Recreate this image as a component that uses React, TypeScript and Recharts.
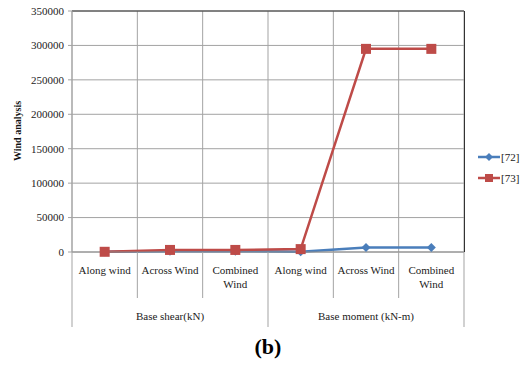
import { LineChart, Line, XAxis, YAxis, CartesianGrid, ReferenceLine } from "recharts";

const categories = ["Along wind", "Across Wind", "Combined Wind", "Along wind", "Across Wind", "Combined Wind"];
const groups = ["Base shear(kN)", "Base moment (kN-m)"];
const ref72 = [200, 1200, 1200, 300, 6500, 6500];
const ref73 = [300, 3000, 3000, 4200, 295000, 295000];
const yTicks = [0, 50000, 100000, 150000, 200000, 250000, 300000, 350000];
const seriesNames = ["[72]", "[73]"];

const W = 523;
const H = 365;
const LEFT = 72;
const RIGHT = 59;
const TOP = 11;
const AXIS_H = 113;
const BAND = (W - LEFT - RIGHT) / categories.length;
const FONT = "'Liberation Serif', 'Times New Roman', serif";
const GRID = "#a3a3a3";
const BLUE = "#4a7ebb";
const RED = "#be4b48";

const data = categories.map((c, i) => ({ idx: i, label: c, r72: ref72[i], r73: ref73[i] }));

function CategoryTick(props: any) {
  const { x, y, payload } = props;
  const i = payload.index;
  const words = categories[i] === "Combined Wind" ? ["Combined", "Wind"] : [categories[i]];
  const groupEnd = (i + 1) % 3 === 0;
  const right = x + BAND / 2;
  return (
    <g>
      {words.map((w, k) => (
        <text key={k} x={x} y={y + 22 + k * 14} textAnchor="middle" fontSize={11} fontFamily={FONT} fill="#222">
          {w}
        </text>
      ))}
      <line x1={right} x2={right} y1={y} y2={y + (groupEnd ? 75 : 46)} stroke={GRID} />
      {i === 0 && <line x1={x - BAND / 2} x2={x - BAND / 2} y1={y} y2={y + 75} stroke={GRID} />}
      {i % 3 === 1 && (
        <text x={x} y={y + 68} textAnchor="middle" fontSize={11} fontFamily={FONT} fill="#222">
          {groups[Math.floor(i / 3)]}
        </text>
      )}
    </g>
  );
}

function LegendBox() {
  const colors = [BLUE, RED];
  return (
    <svg width={50} height={40} style={{ position: "absolute", left: 478, top: 149 }}>
      {seriesNames.map((name, k) => {
        const cy = 8 + k * 21;
        const color = colors[k];
        return (
          <g key={name}>
            <line x1={0} x2={22} y1={cy} y2={cy} stroke={color} strokeWidth={2.5} />
            {k === 0 ? (
              <path d={`M11 ${cy - 4} L15 ${cy} L11 ${cy + 4} L7 ${cy} Z`} fill={color} />
            ) : (
              <rect x={7} y={cy - 4} width={8} height={8} fill={color} />
            )}
            <text x={23} y={cy + 4} fontSize={11} fontFamily={FONT} fill="#222">
              {name}
            </text>
          </g>
        );
      })}
    </svg>
  );
}

function Diamond(props: any) {
  const { cx, cy } = props;
  return <path d={`M${cx} ${cy - 4.5} L${cx + 4.5} ${cy} L${cx} ${cy + 4.5} L${cx - 4.5} ${cy} Z`} fill={BLUE} />;
}

function Square(props: any) {
  const { cx, cy } = props;
  return <rect x={cx - 5} y={cy - 5} width={10} height={10} fill={RED} />;
}

export default function App() {
  return (
    <div style={{ position: "absolute", left: 0, top: 0, width: W, height: H, background: "#fff" }}>
      <LineChart width={W} height={H} data={data} margin={{ top: TOP, right: RIGHT, bottom: 0, left: 0 }}>
        <CartesianGrid
          stroke={GRID}
          verticalCoordinatesGenerator={() => categories.map((_, i) => LEFT + BAND * i).concat([W - RIGHT])}
        />
        <XAxis
          dataKey="idx"
          height={AXIS_H}
          tick={<CategoryTick />}
          tickLine={false}
          tickSize={0}
          tickMargin={0}
          axisLine={{ stroke: "#8c8c8c" }}
          interval={0}
          padding={{ left: BAND / 2, right: BAND / 2 }}
        />
        <YAxis
          width={LEFT}
          domain={[0, 350000]}
          ticks={yTicks}
          tickSize={4}
          tickMargin={4}
          axisLine={{ stroke: GRID }}
          tickLine={{ stroke: GRID }}
          tick={{ fontSize: 11, fontFamily: FONT, fill: "#222" }}
          label={{
            content: () => (
              <text
                x={21}
                y={131}
                transform="rotate(-90 21 131)"
                textAnchor="middle"
                fontSize={10}
                fontWeight="bold"
                fontFamily={FONT}
                fill="#111"
              >
                Wind analysis
              </text>
            ),
          }}
        />
        <ReferenceLine y={350000} stroke="#333" />
        <Line dataKey="r72" name={seriesNames[0]} stroke={BLUE} strokeWidth={2.5} dot={<Diamond />} isAnimationActive={false} />
        <Line dataKey="r73" name={seriesNames[1]} stroke={RED} strokeWidth={2.5} dot={<Square />} isAnimationActive={false} />
      </LineChart>
      <LegendBox />
      <div
        style={{
          position: "absolute",
          left: 0,
          width: 536,
          top: 334,
          textAlign: "center",
          fontFamily: FONT,
          fontWeight: "bold",
          fontSize: 22,
        }}
      >
        (b)
      </div>
      <div style={{ position: "absolute", left: W - RIGHT, top: TOP, width: 1, height: 241, background: "#333" }} />
    </div>
  );
}
